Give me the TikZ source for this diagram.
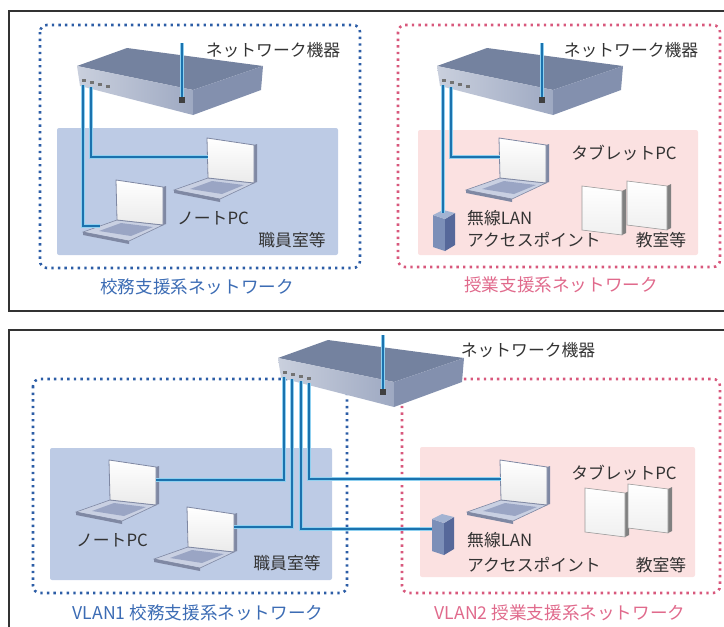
\documentclass[tikz,border=0pt]{standalone}
\usepackage{fontspec}
\setmainfont{Noto Sans CJK JP}
\usepackage{tikz}
\usetikzlibrary{positioning}

\definecolor{cableblue}{HTML}{1B72AE}
\definecolor{cablelight}{HTML}{8FD0F0}
\definecolor{zoneblue}{HTML}{2C5DA6}
\definecolor{zonepink}{HTML}{D8587C}
\definecolor{roomblue}{HTML}{BDCBE5}
\definecolor{roompink}{HTML}{FBE1E1}
\definecolor{swtop}{HTML}{74829F}
\definecolor{swfront}{HTML}{9EA9C2}
\definecolor{swside}{HTML}{8390AE}
\definecolor{txtgray}{HTML}{333333}
\definecolor{netblue}{HTML}{3C6CB4}
\definecolor{netpink}{HTML}{E06A8C}
\definecolor{pcbase}{HTML}{C9D0E2}
\definecolor{pcline}{HTML}{7F88A3}
\definecolor{pckeys}{HTML}{9AA5C4}
\definecolor{apfront}{HTML}{7C8FB8}
\definecolor{apside}{HTML}{56689A}
\definecolor{aptop}{HTML}{A3B3D2}

\tikzset{
  frame/.style={draw=black!80, line width=1.3pt},
  zone/.style={line width=2.6pt, dash pattern=on 2.4pt off 4.2pt, rounded corners=7pt},
  room/.style={rounded corners=2pt},
  cable/.style={draw=cableblue, line width=2.4pt, preaction={draw=cablelight, line width=3.6pt}},
  lbl/.style={text=txtgray, font=\fontsize{16.8}{19}\selectfont, inner sep=0pt},
  netlbl/.style={font=\fontsize{17.6}{20}\selectfont, inner sep=0pt},
  % 交换机
  switch/.pic={
    \fill[swtop] (0,0) -- (50,-18) -- (186,0) -- (116,24) -- cycle;
    \shade[left color=swfront!55!white, right color=swfront] (0,0) -- (116,24) -- (116,49) -- (3,20) -- cycle;
    \fill[swside] (116,24) -- (186,0) -- (184,24) -- (116,49) -- cycle;
    \foreach \i in {0,...,3}
      \fill[black!55] (5+8*\i,13+2*\i) rectangle ++(4,3);
    \coordinate (-p1) at (6,19);
    \coordinate (-p2) at (14,21);
    \coordinate (-p3) at (23,23);
    \coordinate (-p4) at (31,25);
    \coordinate (-up) at (105,-23);
    \coordinate (-jack) at (105,34);
  },
  % 笔记本电脑
  laptop/.pic={
    \filldraw[fill=pcbase, draw=pcline, line width=0.6pt] (0,0) -- (46,5) -- (12,21) -- (-34,12) -- cycle;
    \fill[pcline] (-34,12) -- (12,21) -- (12,24) -- (-34,15) -- cycle;
    \fill[pckeys] (4,3) -- (36,7) -- (14,16) -- (-18,11) -- cycle;
    \fill[pcline] (46,5) -- (49,4) -- (49,-34) -- (46,-33) -- cycle;
    \shade[top color=white, bottom color=black!8, draw=pcline, line width=0.8pt] (0,0) -- (46,5) -- (46,-33) -- (-1,-40) -- cycle;
    \coordinate (-l) at (-0.5,-21);
    \coordinate (-r) at (46,-20);
    \coordinate (-b) at (-17,6);
  },
  % 平板电脑
  tablet/.pic={
    \fill[black!50] (40,5) -- (44,3) -- (44,47) -- (40,49) -- cycle;
    \shade[top color=white, bottom color=black!6, draw=black!40, line width=0.6pt] (0,0) -- (40,5) -- (40,49) -- (0,44) -- cycle;
  },
  % 无线接入点
  ap/.pic={
    \fill[apfront] (0,2) -- (12,6) -- (12,38) -- (0,34) -- cycle;
    \fill[apside] (12,6) -- (22,0) -- (22,32) -- (12,38) -- cycle;
    \fill[aptop] (0,2) -- (10,-3) -- (22,0) -- (12,6) -- cycle;
    \coordinate (-in) at (0,12);
    \coordinate (-top) at (8,0);
  }
}

\begin{document}
\begin{tikzpicture}[x=1pt, y=-1pt]
  \useasboundingbox (0,0) rectangle (724,627);

  % 外框
  \draw[frame] (740,11) -- (9,11) -- (9,311) -- (740,311);
  \draw[frame] (740,330) -- (9,330) -- (9,640);

  % ===== 上：分开的两个网络 =====
  % 背景区域
  \fill[room, roomblue] (57,128) rectangle (338,255);
  \fill[room, roompink] (418,130) rectangle (698,255);
  \draw[zone, zoneblue] (40,25) rectangle (360,268);
  \draw[zone, zonepink] (398,25) rectangle (720,267);

  % 左：校务
  \pic (swA) at (77,66) {switch};
  \pic (pcA1) at (208,178) {laptop};
  \pic (pcA2) at (117,220) {laptop};
  \draw[cable] (swA-p1) |- (pcA2-b);
  \draw[cable] (swA-p2) |- (pcA1-l);
  \draw[cable] (swA-up) -- (swA-jack);
  \fill[black!75] (swA-jack) ++(-3,-3) rectangle ++(6,6);

  \node[lbl] (devA) at (273,50) {ネットワーク機器};
  \node[lbl] (pcnameA) at (213,218) {ノートPC};
  \node[lbl] (roomA) at (292,240) {職員室等};
  \node[netlbl, text=netblue] (netA) at (197,287) {校務支援系ネットワーク};

  % 右：授业
  \pic (swB) at (437,66) {switch};
  \pic (pcB1) at (500,178) {laptop};
  \pic (apB) at (433,213) {ap};
  \pic (tabB1) at (582,186) {tablet};
  \pic (tabB2) at (627,181) {tablet};
  \draw[cable] (swB-p1) -- (swB-p1 |- apB-top);
  \draw[cable] (swB-p2) |- (pcB1-l);
  \draw[cable] (swB-up) -- (swB-jack);
  \fill[black!75] (swB-jack) ++(-3,-3) rectangle ++(6,6);

  \node[lbl] (devB) at (631,50) {ネットワーク機器};
  \node[lbl] (tabnameB) at (624,153) {タブレットPC};
  \node[lbl, anchor=west] (wlanB) at (467,218) {無線LAN};
  \node[lbl, anchor=west] (apnameB) at (467,240) {アクセスポイント};
  \node[lbl] (roomB) at (661,240) {教室等};
  \node[netlbl, text=netpink] (netB) at (561,285) {授業支援系ネットワーク};

  % ===== 下：VLAN =====
  \fill[room, roomblue] (50,448) rectangle (332,580);
  \fill[room, roompink] (420,447) rectangle (695,577);
  \draw[zone, zoneblue] (33,379) rectangle (347,593);
  \draw[zone, zonepink] (402,379) rectangle (720,593);

  \pic (swC) at (278,358) {switch};
  \pic (pcC1) at (110,500) {laptop};
  \pic (pcC2) at (188,547) {laptop};
  \pic (pcC3) at (501,500) {laptop};
  \pic (apC) at (432,517) {ap};
  \pic (tabC1) at (585,488) {tablet};
  \pic (tabC2) at (628,484) {tablet};
  \draw[cable] (swC-p1) |- (pcC1-r);
  \draw[cable] (swC-p2) |- (pcC2-r);
  \draw[cable] (swC-p3) |- (apC-in);
  \draw[cable] (swC-p4) |- (pcC3-l);
  \draw[cable] (swC-up) -- (swC-jack);
  \fill[black!75] (swC-jack) ++(-3,-3) rectangle ++(6,6);

  \node[lbl] (devC) at (528,350) {ネットワーク機器};
  \node[lbl] (pcnameC) at (112,540) {ノートPC};
  \node[lbl] (roomC1) at (287,563) {職員室等};
  \node[lbl] (tabnameC) at (624,473) {タブレットPC};
  \node[lbl, anchor=west] (wlanC) at (467,540) {無線LAN};
  \node[lbl, anchor=west] (apnameC) at (467,565) {アクセスポイント};
  \node[lbl] (roomC2) at (661,565) {教室等};
  \node[netlbl, text=netblue] (netC1) at (198,613) {VLAN1 校務支援系ネットワーク};
  \node[netlbl, text=netpink] (netC2) at (560,613) {VLAN2 授業支援系ネットワーク};
\end{tikzpicture}
\end{document}
